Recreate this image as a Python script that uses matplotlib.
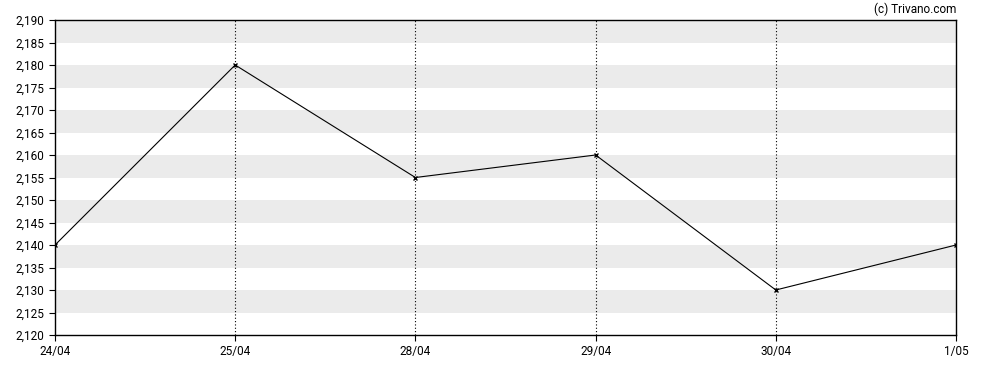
import numpy as np
import matplotlib.pyplot as plt

dates = ['24/04', '25/04', '28/04', '29/04', '30/04', '1/05']
prices = [2.140, 2.180, 2.155, 2.160, 2.130, 2.140]
y_min, y_max, y_step = 2.120, 2.190, 0.005

plt.rcParams['font.family'] = ['Roboto', 'DejaVu Sans']

fig = plt.figure(figsize=(9.88, 3.70), dpi=100)
ax = fig.add_axes([55/988, 35/370, 901/988, 315/370])

# alternating grey bands
for lo in np.arange(y_min + y_step, y_max, 2 * y_step):
    ax.axhspan(lo, lo + y_step, color='#ebebeb', lw=0, zorder=0)

x = np.arange(len(dates))
for xi in x[1:-1]:
    ax.axvline(xi, color='black', lw=0.8, ls=(0, (1, 2)), zorder=1)

ax.plot(x, prices, color='black', lw=0.8, marker='x', ms=3.5, mew=1.0, zorder=3)

ax.set_xlim(0, len(dates) - 1)
ax.set_ylim(y_min, y_max)
ax.set_xticks(x)
ax.set_xticklabels(dates)
yt = np.arange(y_min, y_max + 1e-9, y_step)
ax.set_yticks(yt)
ax.set_yticklabels([f'{v:.3f}'.replace('.', ',') for v in yt])
ax.tick_params(axis='both', labelsize=8.5, length=4, width=0.8, colors='black')
for s in ax.spines.values():
    s.set_linewidth(1.0)

fig.text(956/988, 1 - 9/370, '(c) Trivano.com', ha='right', va='center', fontsize=8.5)

fig.savefig('out.png', dpi=100)
